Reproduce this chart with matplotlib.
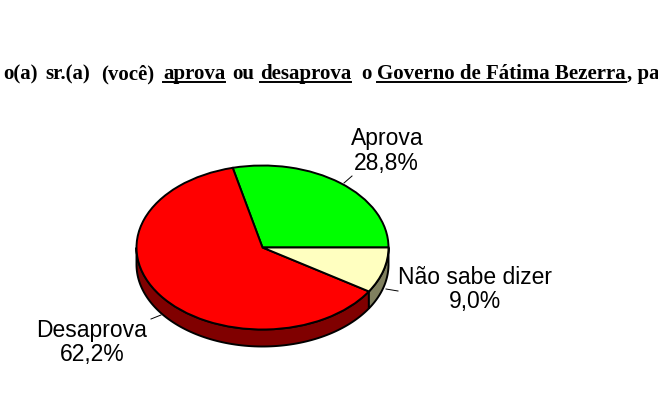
import numpy as np
import matplotlib
matplotlib.use('Agg')
import matplotlib.pyplot as plt
from matplotlib.patches import Polygon

# chart data
labels = ['Aprova', 'Desaprova', 'Não sabe dizer']
values = [28.8, 62.2, 9.0]
value_labels = ['28,8%', '62,2%', '9,0%']
colors = ['#00ff00', '#ff0000', '#ffffc0']
side_colors = ['#008000', '#800000', '#80805f']

# title runs: text, left pixel, underlined or not
title_runs = [('o(a)', 3, False), ('sr.(a)', 45, False), ('(você)', 101, False),
              ('aprova', 163, True), ('ou', 232, False),
              ('desaprova', 260, True), ('o', 361, False),
              ('Governo de Fátima Bezerra', 377, True), (', pa', 627, False)]

W, H = 658, 415
fig = plt.figure(figsize=(W / 100, H / 100), dpi=100)

# background axes in pixel coordinates, for text and leader lines
bg = fig.add_axes([0, 0, 1, 1])
bg.set_xlim(0, W)
bg.set_ylim(H, 0)
bg.axis('off')

# pie axes stretched so the circle turns into the tilted ellipse
cx, cy, rx, ry = 262.5, 247.5, 126, 82
depth = 17 / ry
ax = fig.add_axes([(cx - rx) / W, 1 - (cy + ry) / H, 2 * rx / W, 2 * ry / H])

edges = np.cumsum([0] + values) / sum(values) * 360
for i in range(len(values)):
    # only the part of the slice facing the viewer has a visible side
    a0, a1 = max(edges[i], 180), min(edges[i + 1], 360)
    if a1 <= a0:
        continue
    t = np.radians(np.linspace(a0, a1, 100))
    top = np.column_stack([np.cos(t), np.sin(t)])
    low = top[::-1] - [0, depth]
    ax.add_patch(Polygon(np.vstack([top, low]), closed=True, fc=side_colors[i],
                         ec='black', lw=1.4, clip_on=False, zorder=1))

wedges, _ = ax.pie(values, colors=colors, startangle=0, counterclock=True, radius=1,
                   wedgeprops={'edgecolor': 'black', 'linewidth': 1.4, 'clip_on': False, 'zorder': 2})
ax.set_aspect('auto')
ax.set_xlim(-1, 1)
ax.set_ylim(-1, 1)

# slice labels with short leader lines
lab_font = {'family': 'Liberation Sans', 'fontsize': 16.5, 'color': 'black', 'ha': 'center', 'va': 'baseline'}
bg.text(387, 145, labels[0], **lab_font)
bg.text(386, 170, value_labels[0], **lab_font)
bg.text(475, 284, labels[2], **lab_font)
bg.text(475, 308, value_labels[2], **lab_font)
bg.text(92, 337, labels[1], **lab_font)
bg.text(92, 361, value_labels[1], **lab_font)
bg.plot([344, 352], [183, 176], color='black', lw=0.7)
bg.plot([386, 398], [289, 291], color='black', lw=0.7)
bg.plot([151, 161], [319, 315], color='black', lw=0.7)

# title is cut off at both sides in the original, so each run sits at its own x
rend = fig.canvas.get_renderer()
for txt, x, under in title_runs:
    t = bg.text(x, 79, txt, family='Liberation Serif', fontweight='bold', fontsize=15,
                color='black', ha='left', va='baseline', clip_on=True)
    if under:
        w = t.get_window_extent(rend).width
        bg.plot([x, x + w], [82, 82], color='black', lw=1.4)

fig.savefig('out.png', dpi=100)
